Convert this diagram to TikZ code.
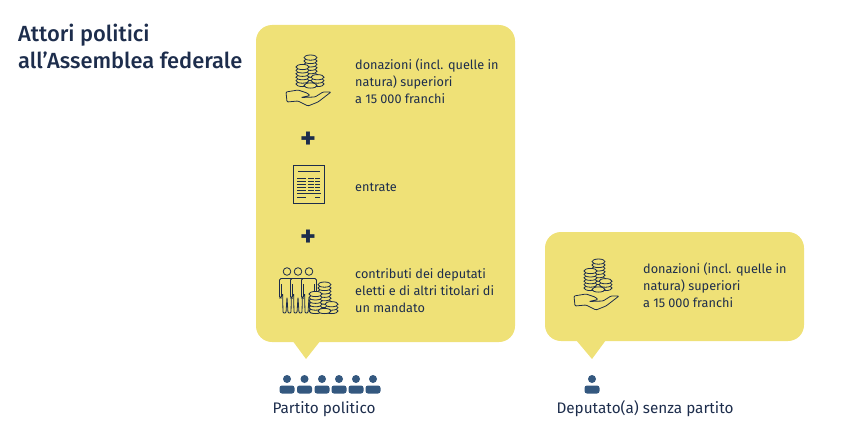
\documentclass[tikz,border=0pt]{standalone}
\usepackage{fontspec}
\setmainfont{Fira Sans}
\newfontfamily\titlefont{Fira Sans Medium}
\definecolor{bubblefill}{HTML}{EFE177}
\definecolor{inkdark}{HTML}{1D2D4C}
\definecolor{peopleblue}{HTML}{34587F}

% one pile of coins: x, y of the lowest coin, number of coins
\newcommand{\coinpile}[3]{
  \foreach \i in {1,...,#3} {
    \draw [coinline] (#1, #2 - 3.4 * \i + 3.4) ellipse [x radius = 6.5pt, y radius = 2.6pt];
  }
}

\tikzset{
  donationicon/.pic = {
    \coinpile{310.5}{78}{7}
    \coinpile{302.5}{84}{6}
    \coinpile{317.5}{84}{3}
    \coinpile{310.5}{85.5}{1}
    \draw [iconline, rounded corners = 1pt]
    (286, 92) -- (287, 102) -- (298, 101) -- (308, 106) -- (318, 102) -- (331, 92)
    -- (323, 92) -- (315, 97) -- (301, 97.5) -- (310, 95.5) -- (307, 93) -- (298, 90) -- cycle;
  },
  figureicon/.pic = {
    \draw [iconline] (0, -0.5) circle [radius = 3.8pt];
    \fill [bubblefill] (-7.5, 6.5) rectangle (7.5, 26);
    \fill [bubblefill] (-4.8, 26) rectangle (4.8, 41);
    \draw [iconline, rounded corners = 1.5pt]
    (-5.5, 12) -- (-5.5, 26) -- (-7.5, 26) -- (-7.5, 6.5) -- (7.5, 6.5) -- (7.5, 26)
    -- (5.5, 26) -- (5.5, 12);
    \draw [iconline, rounded corners = 1pt]
    (4.4, 22) -- (4, 41) -- (1, 41) -- (0, 25) -- (-1, 41) -- (-4, 41) -- (-4.4, 22);
  },
  memberblue/.pic = {
    \fill [peopleblue] (0, 0) circle [radius = 4pt];
    \fill [peopleblue, rounded corners = 2.5pt]
    (-7.5, 14.5) -- (-7.5, 6.5) -- (7.5, 6.5) -- (7.5, 14.5) -- cycle;
  },
}

\begin{document}
\begin{tikzpicture}[
    x = 1pt,
    y = -1pt,
    %
    bubble/.style = {fill = bubblefill, rounded corners = 16pt},
    bubbletail/.style = {fill = bubblefill},
    iconline/.style = {draw = inkdark, line width = 0.8pt},
    coinline/.style = {draw = inkdark, fill = bubblefill, line width = 0.8pt},
    docrow/.style = {draw = inkdark, line width = 0.9pt},
    bodytext/.style = {anchor = west, align = left, inner sep = 0pt, text = inkdark,
      font = \fontsize{12.7}{17}\selectfont},
    titletext/.style = {anchor = west, align = left, inner sep = 0pt, text = inkdark,
      font = \fontsize{21.9}{27}\selectfont\titlefont},
    caption/.style = {inner sep = 0pt, text = inkdark,
      font = \fontsize{15.3}{18}\selectfont},
    plus/.style = {inner sep = 0pt, text = inkdark,
      font = \fontsize{30}{30}\selectfont\bfseries},
    ]

    \useasboundingbox (0, 0) rectangle (850, 444);

    \node at (18, 46.5) [titletext, name = title]
    {Attori politici\\all’Assemblea federale};

    % party bubble
    \fill [bubbletail] (292, 340) -- (306, 359) -- (321, 340) -- cycle;
    \fill [bubble] (256, 25) rectangle (515, 342);

    \pic at (0, 0) {donationicon};

    \node at (355, 81) [bodytext, name = party_donations]
    {donazioni (incl. quelle in\\natura) superiori\\a 15\hspace{3pt}000 franchi};

    \node at (308, 140) [plus, name = plus_a] {+};

    % income sheet
    \draw [iconline] (293, 165) rectangle (324, 203);
    \draw [docrow] (298, 171) -- (320, 171);
    \foreach \y in {178, 181, 184, 187, 190} {
      \draw [docrow, line width = 0.7pt] (297, \y) -- (306, \y);
      \draw [docrow, line width = 0.7pt] (308, \y) -- (314, \y);
      \draw [docrow, line width = 0.7pt] (315, \y) -- (320, \y);
    }
    \draw [docrow] (297, 193.5) -- (321, 193.5);
    \draw [docrow, line width = 0.7pt] (297, 197) -- (306, 197);
    \draw [docrow, line width = 0.7pt] (315, 197) -- (320, 197);

    \node at (355, 187) [bodytext, name = party_income] {entrate};

    \node at (308, 238) [plus, name = plus_b] {+};

    % members and coins
    \pic at (287, 272) {figureicon};
    \pic at (298, 272) {figureicon};
    \pic at (309, 272) {figureicon};
    \coinpile{324.5}{305}{7}
    \coinpile{315.5}{311}{6}
    \coinpile{331.5}{311}{3}
    \coinpile{324.5}{311}{1}

    \node at (355, 291) [bodytext, name = party_fees]
    {contributi dei deputati\\eletti e di altri titolari di\\un mandato};

    % independent bubble
    \fill [bubbletail] (576, 340) -- (592, 359) -- (606, 340) -- cycle;
    \fill [bubble] (545, 232) rectangle (804, 341);

    \pic at (288, 204) {donationicon};

    \node at (643, 285.5) [bodytext, name = solo_donations]
    {donazioni (incl. quelle in\\natura) superiori\\a 15\hspace{3pt}000 franchi};

    % people row
    \foreach \x in {287, 304.5, 322, 339, 356, 373} {
      \pic at (\x, 379) {memberblue};
    }
    \pic at (592, 379) {memberblue};

    \node at (324, 409) [caption, name = party_label] {Partito politico};
    \node at (645, 409) [caption, name = solo_label] {Deputato(a) senza partito};

\end{tikzpicture}
\end{document}
